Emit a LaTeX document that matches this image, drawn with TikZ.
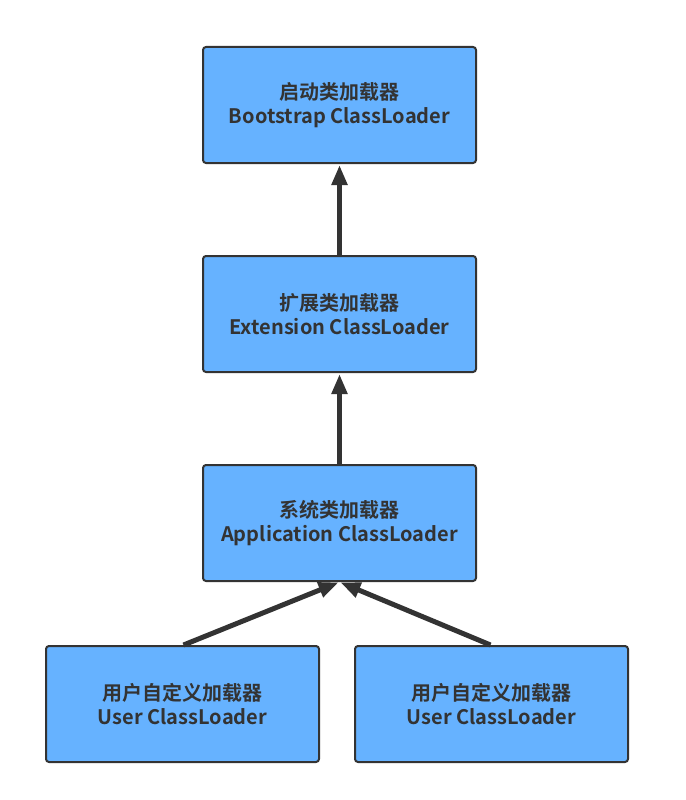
\documentclass[tikz,border=0pt]{standalone}
\usepackage{fontspec}
\setmainfont{Noto Sans CJK SC}[BoldFont={Noto Sans CJK SC Bold}]
\usetikzlibrary{arrows.meta}
\definecolor{boxfill}{HTML}{66B2FF}
\definecolor{ink}{HTML}{333333}
\begin{document}
\begin{tikzpicture}[x=1pt,y=-1pt,
  loader/.style={draw=ink, fill=boxfill, line width=2pt, rounded corners=3pt,
    minimum width=273pt, minimum height=116pt, inner sep=0pt,
    align=center, text=ink, font=\bfseries\fontsize{20}{24}\selectfont},
  link/.style={draw=ink, line width=5pt, -{Triangle[length=20pt,width=15pt]}, shorten >=1pt}]
  \useasboundingbox (0,0) rectangle (685,800);
  \node[loader] (boot) at (339.5,105) {启动类加载器\\Bootstrap ClassLoader};
  \node[loader] (ext)  at (339.5,314) {扩展类加载器\\Extension ClassLoader};
  \node[loader] (app)  at (339.5,523) {系统类加载器\\Application ClassLoader};
  \node[loader] (userA) at (182.5,704) {用户自定义加载器\\User ClassLoader};
  \node[loader] (userB) at (491.5,704) {用户自定义加载器\\User ClassLoader};
  \draw[link] (ext.north) -- (boot.south);
  \draw[link] (app.north) -- (ext.south);
  \draw[link] ([xshift=1pt]userA.north) -- (app.south);
  \draw[link] ([xshift=-1pt]userB.north) -- (app.south);
\end{tikzpicture}
\end{document}
